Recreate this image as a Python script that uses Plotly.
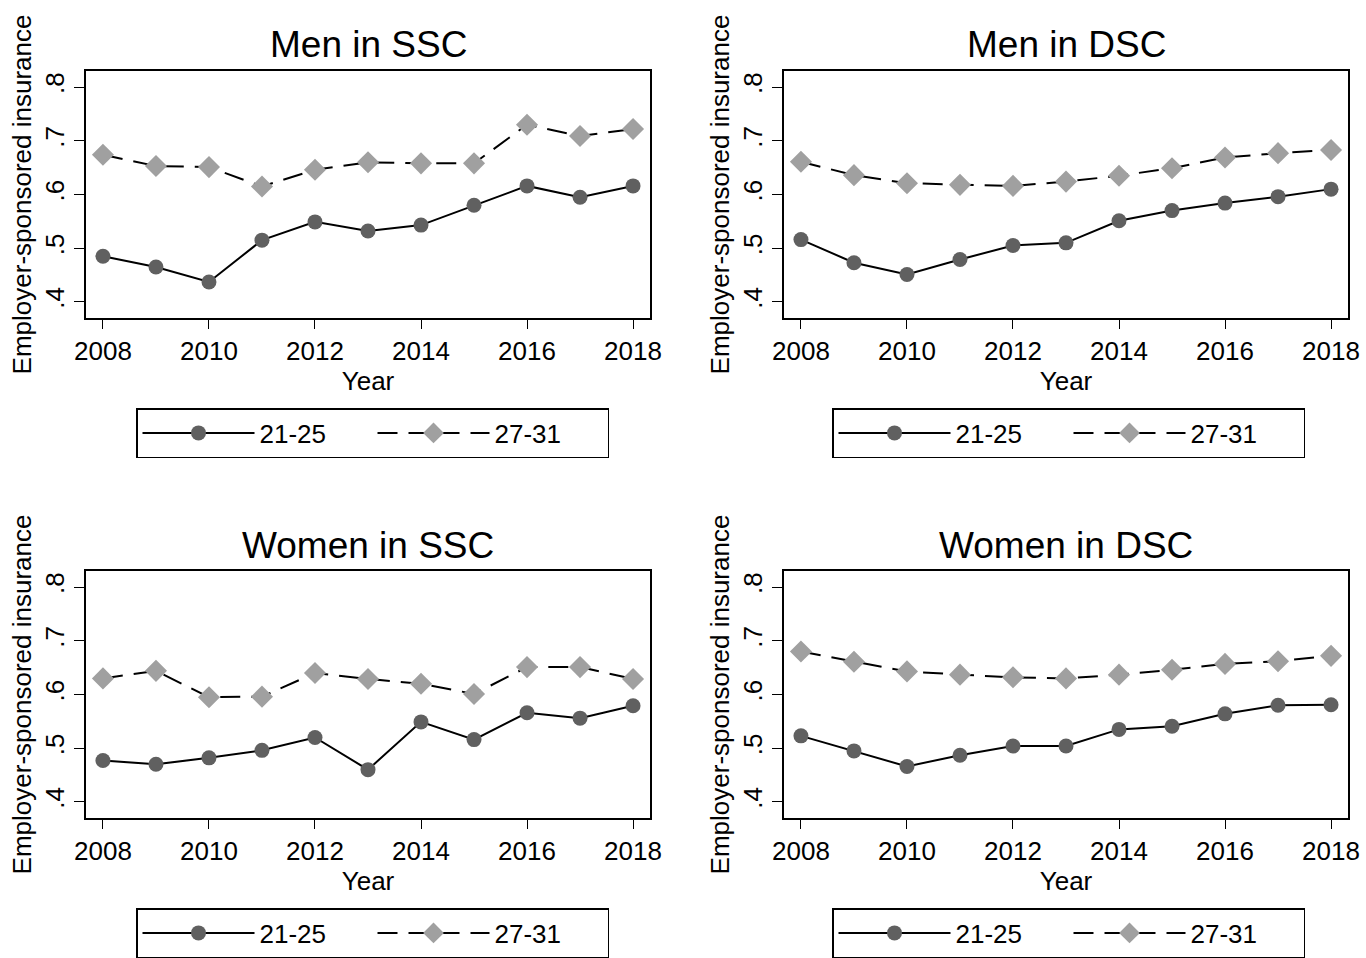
import plotly.graph_objects as go

years = list(range(2008, 2019))

titles = ["Men in SSC", "Men in DSC", "Women in SSC", "Women in DSC"]
series_names = ["21-25", "27-31"]

men_ssc_2125 = [0.485, 0.465, 0.437, 0.515, 0.549, 0.532, 0.543, 0.580, 0.616, 0.595, 0.616]
men_ssc_2731 = [0.674, 0.653, 0.651, 0.615, 0.646, 0.660, 0.658, 0.658, 0.730, 0.709, 0.722]
men_dsc_2125 = [0.516, 0.473, 0.451, 0.479, 0.505, 0.510, 0.551, 0.570, 0.584, 0.596, 0.610]
men_dsc_2731 = [0.661, 0.636, 0.621, 0.618, 0.616, 0.624, 0.635, 0.649, 0.669, 0.677, 0.683]
women_ssc_2125 = [0.477, 0.470, 0.482, 0.496, 0.520, 0.460, 0.549, 0.516, 0.566, 0.556, 0.579]
women_ssc_2731 = [0.630, 0.644, 0.595, 0.596, 0.640, 0.629, 0.620, 0.601, 0.651, 0.651, 0.629]
women_dsc_2125 = [0.523, 0.495, 0.466, 0.487, 0.504, 0.504, 0.535, 0.541, 0.564, 0.580, 0.581]
women_dsc_2731 = [0.680, 0.661, 0.643, 0.637, 0.632, 0.630, 0.637, 0.646, 0.657, 0.662, 0.672]

panels = [
    (men_ssc_2125, men_ssc_2731),
    (men_dsc_2125, men_dsc_2731),
    (women_ssc_2125, women_ssc_2731),
    (women_dsc_2125, women_dsc_2731),
]

xtick_vals = [2008, 2010, 2012, 2014, 2016, 2018]
ytick_vals = [0.4, 0.5, 0.6, 0.7, 0.8]
ytick_text = [".4", ".5", ".6", ".7", ".8"]

W, H = 1366, 958
FONT = "Arial, Liberation Sans, sans-serif"

# panel boxes in pixels: (left, right, top, bottom)
boxes = [
    (86, 650, 71, 318),
    (784, 1348, 71, 318),
    (86, 650, 571, 818),
    (784, 1348, 571, 818),
]
title_y = [45, 45, 545, 545]
legend_top = [408, 408, 908, 908]
legend_left = [136, 832, 136, 832]

fig = go.Figure()
dark = "rgb(96,96,96)"
light = "rgb(160,160,160)"

for i, (s1, s2) in enumerate(panels):
    ax = "" if i == 0 else str(i + 1)
    leg = "legend" if i == 0 else f"legend{i+1}"
    fig.add_trace(go.Scatter(
        x=years, y=s1, name=series_names[0], mode="lines+markers",
        line=dict(color="black", width=2),
        marker=dict(symbol="circle", size=15, color=dark),
        xaxis="x" + ax, yaxis="y" + ax, legend=leg))
    fig.add_trace(go.Scatter(
        x=years, y=s2, name=series_names[1], mode="lines+markers",
        line=dict(color="black", width=2, dash="20px,11px"),
        marker=dict(symbol="diamond", size=17, color=light),
        xaxis="x" + ax, yaxis="y" + ax, legend=leg))

layout = dict(
    width=W, height=H,
    margin=dict(l=0, r=0, t=0, b=0, autoexpand=False),
    paper_bgcolor="white", plot_bgcolor="white",
    font=dict(family=FONT, size=26, color="black"),
    showlegend=True,
)
annotations = []
for i, (l, r, t, b) in enumerate(boxes):
    ax = "" if i == 0 else str(i + 1)
    xd = [l / W, r / W]
    yd = [1 - b / H, 1 - t / H]
    layout["xaxis" + ax] = dict(
        domain=xd, range=[2007.68, 2018.32], anchor="y" + ax,
        tickvals=xtick_vals, ticks="outside", ticklen=9, tickwidth=1.2,
        tickcolor="black", showline=True, linecolor="black", linewidth=2,
        mirror=True, showgrid=False, zeroline=False, automargin=False,
        tickfont=dict(size=26),
        title=dict(text="Year", font=dict(size=26), standoff=0),
    )
    layout["yaxis" + ax] = dict(
        domain=yd, range=[0.37, 0.83], anchor="x" + ax,
        tickvals=ytick_vals, ticktext=ytick_text, tickangle=-90,
        ticks="outside", ticklen=10, tickwidth=1.2, tickcolor="black",
        showline=True, linecolor="black", linewidth=2, mirror=True,
        showgrid=False, zeroline=False, automargin=False,
        tickfont=dict(size=26),
        title=dict(text="Employer-sponsored insurance", font=dict(size=26), standoff=0),
    )
    annotations.append(dict(
        text=titles[i], x=(l + r) / 2 / W, y=1 - title_y[i] / H,
        xref="paper", yref="paper", xanchor="center", yanchor="middle",
        showarrow=False, font=dict(size=37)))
    leg = "legend" if i == 0 else f"legend{i+1}"
    layout[leg] = dict(
        x=legend_left[i] / W, xanchor="left", y=1 - legend_top[i] / H,
        yanchor="top", orientation="h", bordercolor="black", borderwidth=1.5,
        bgcolor="white", font=dict(size=26), entrywidth=108,
        entrywidthmode="pixels", itemwidth=112,
    )
layout["annotations"] = annotations
fig.update_layout(**layout)

fig.write_html("out.html", config={"displayModeBar": False},
               post_script="document.body.style.margin='0';document.body.style.padding='0';")
